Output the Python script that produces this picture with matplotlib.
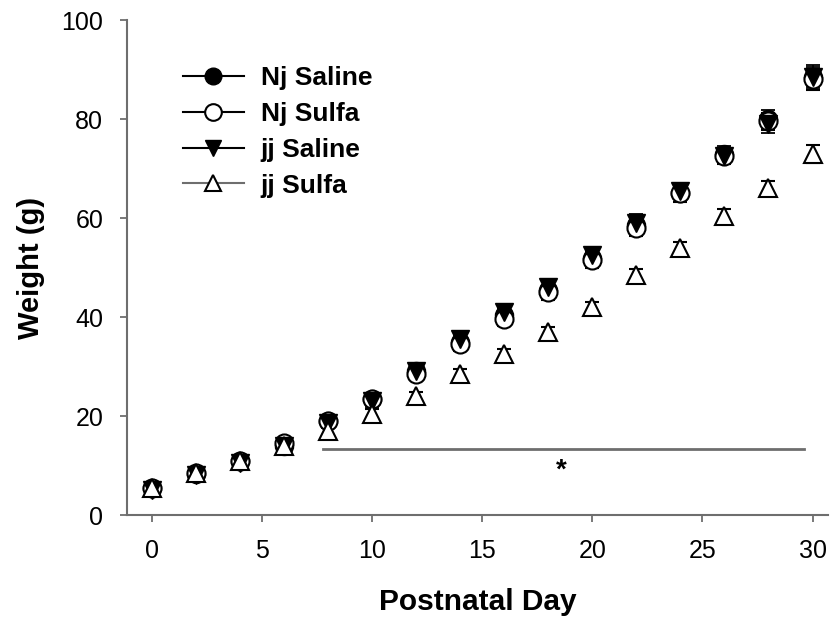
import matplotlib.pyplot as plt
from matplotlib.lines import Line2D

plt.rcParams['font.family'] = ['Liberation Sans', 'DejaVu Sans']

days = [0, 2, 4, 6, 8, 10, 12, 14, 16, 18, 20, 22, 24, 26, 28, 30]
nj_saline = [5.5, 8.3, 11.0, 14.0, 19.0, 23.5, 29.0, 35.0, 40.5, 45.5, 52.0, 58.5, 65.0, 73.0, 80.0, 88.5]
nj_saline_err = [0.8, 0.8, 0.9, 1.0, 1.0, 1.2, 1.2, 1.3, 1.4, 1.5, 1.8, 1.8, 1.8, 1.5, 1.8, 2.0]
nj_sulfa = [5.5, 8.5, 11.0, 14.5, 19.0, 23.5, 28.5, 34.5, 39.5, 45.0, 51.5, 58.0, 65.0, 72.5, 79.5, 88.0]
nj_sulfa_err = [0.8, 0.8, 0.9, 1.0, 1.0, 1.1, 1.2, 1.3, 1.4, 1.5, 1.6, 1.7, 1.8, 1.6, 1.8, 2.2]
jj_saline = [5.0, 8.0, 10.5, 14.0, 18.5, 23.0, 29.0, 35.5, 41.0, 46.0, 52.5, 59.0, 65.5, 72.5, 79.0, 88.5]
jj_saline_err = [0.8, 0.8, 0.9, 1.0, 1.0, 1.1, 1.2, 1.3, 1.4, 1.5, 1.7, 1.8, 1.6, 1.5, 1.8, 2.5]
jj_sulfa = [5.5, 8.5, 11.0, 14.0, 17.0, 20.5, 24.0, 28.5, 32.5, 37.0, 42.0, 48.5, 54.0, 60.5, 66.0, 73.0]
jj_sulfa_err = [0.6, 0.7, 0.7, 0.8, 0.8, 0.9, 0.9, 1.0, 1.0, 1.0, 1.1, 1.1, 1.2, 1.3, 1.5, 1.8]

sig_start, sig_end, sig_y = 7.75, 29.6, 13.3
star_x, star_y = 18.6, 9.0

fig = plt.figure(figsize=(8.32, 6.27), dpi=100)
ax = fig.add_axes([0.1526, 0.1786, 0.8425, 0.7895])

grey = '#6e6e6e'
ms = 13
ax.errorbar(days, nj_saline, yerr=nj_saline_err, fmt='o', color='black', mfc='black', mec='black',
            ms=ms, capsize=5, elinewidth=1.3, capthick=1.3, label='Nj Saline', zorder=3)
ax.errorbar(days, nj_sulfa, yerr=nj_sulfa_err, fmt='o', color='black', mfc='white', mec='black',
            ms=ms, mew=1.5, capsize=5, elinewidth=1.3, capthick=1.3, label='Nj Sulfa', zorder=3)
ax.errorbar(days, jj_saline, yerr=jj_saline_err, fmt='v', color='black', mfc='black', mec='black',
            ms=ms, capsize=5, elinewidth=1.3, capthick=1.3, label='jj Saline', zorder=3)
ax.errorbar(days, jj_sulfa, yerr=jj_sulfa_err, fmt='^', color='black', mfc='white', mec='black',
            ms=ms, mew=1.5, capsize=5, elinewidth=1.3, capthick=1.3, label='jj Sulfa', zorder=3)

ax.plot([sig_start, sig_end], [sig_y, sig_y], color=grey, lw=2)
ax.text(star_x, star_y, '*', ha='center', va='center', fontsize=20, fontweight='bold')

ax.set_xlim(-1.13, 30.7)
ax.set_ylim(0, 100)
ax.set_xticks([0, 5, 10, 15, 20, 25, 30])
ax.set_yticks([0, 20, 40, 60, 80, 100])
for s in ['top', 'right']:
    ax.spines[s].set_visible(False)
for s in ['left', 'bottom']:
    ax.spines[s].set_color(grey)
    ax.spines[s].set_linewidth(1.5)
ax.tick_params(direction='out', length=5, width=1.3, color=grey, labelsize=18, pad=12)
ax.set_xlabel('Postnatal Day', fontsize=21.5, fontweight='bold', labelpad=18)
ax.set_ylabel('Weight (g)', fontsize=21, fontweight='bold', labelpad=12)

handles = [
    Line2D([], [], color='black', marker='o', mfc='black', ms=12, lw=1.5),
    Line2D([], [], color='black', marker='o', mfc='white', ms=12, mew=1.5, lw=1.5),
    Line2D([], [], color='black', marker='v', mfc='black', ms=12, lw=1.5),
    Line2D([], [], color=grey, marker='^', mfc='white', mec='black', ms=12, mew=1.5, lw=1.5),
]
leg = ax.legend(handles, ['Nj Saline', 'Nj Sulfa', 'jj Saline', 'jj Sulfa'],
                loc='upper left', bbox_to_anchor=(0.046, 0.955), frameon=False,
                prop={'size': 19, 'weight': 'bold'}, handlelength=2.3,
                labelspacing=0.45, handletextpad=0.65)

fig.savefig('out.png', dpi=100)
